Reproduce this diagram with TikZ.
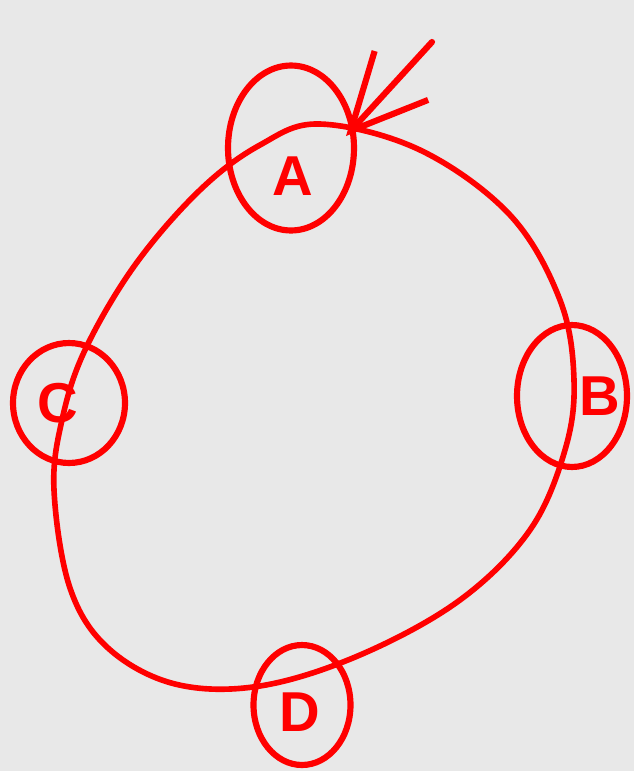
\documentclass[tikz,border=0pt]{standalone}
\usepackage{fontspec}
\setsansfont{Liberation Sans}
\usetikzlibrary{shapes.geometric, arrows.meta}
\definecolor{sketchred}{RGB}{255, 0, 0}
\definecolor{paper}{RGB}{232, 232, 232}

\begin{document}
\begin{tikzpicture}[
    x=0.02cm, y=-0.02cm,
    ring/.style={ellipse, draw=sketchred, line width=3.5pt, inner sep=0pt},
    letter/.style={text=sketchred, font=\sffamily\bfseries\fontsize{32}{32}\selectfont},
    loop/.style={draw=sketchred, line width=3.2pt},
    arrow/.style={-{Straight Barb[length=1.5cm, width=1.45cm]}, draw=sketchred, line width=3.5pt, line cap=round}
]
    % Background
    \fill[paper] (0,0) rectangle (634,771);

    % Rings
    \node[ring, minimum width=2.52cm, minimum height=3.3cm] (ringA) at (291,148) {};
    \node[ring, minimum width=2.2cm, minimum height=2.84cm] (ringB) at (572,396) {};
    \node[ring, minimum width=2.24cm, minimum height=2.4cm] (ringC) at (69,403) {};
    \node[ring, minimum width=1.94cm, minimum height=2.4cm] (ringD) at (302,705) {};

    % Letters
    \node[letter] (lblA) at (293,176) {A};
    \node[letter] (lblB) at (600,396) {B};
    \node[letter] (lblC) at (58,403) {C};
    \node[letter] (lblD) at (300,712) {D};

    % Loop
    \draw[loop] plot[smooth cycle, tension=0.6] coordinates {
        (320,124) (420,150) (510,215) (560,300) (574,380) (565,450)
        (530,530) (460,600) (360,655) (260,686) (175,684) (108,648)
        (70,588) (54,490) (62,420) (85,350) (135,265) (200,190) (260,145)};

    % Arrow
    \coordinate (tail) at (432,42);
    \coordinate (tip) at (346,136);
    \draw[arrow] (tail) -- (tip);
\end{tikzpicture}
\end{document}
